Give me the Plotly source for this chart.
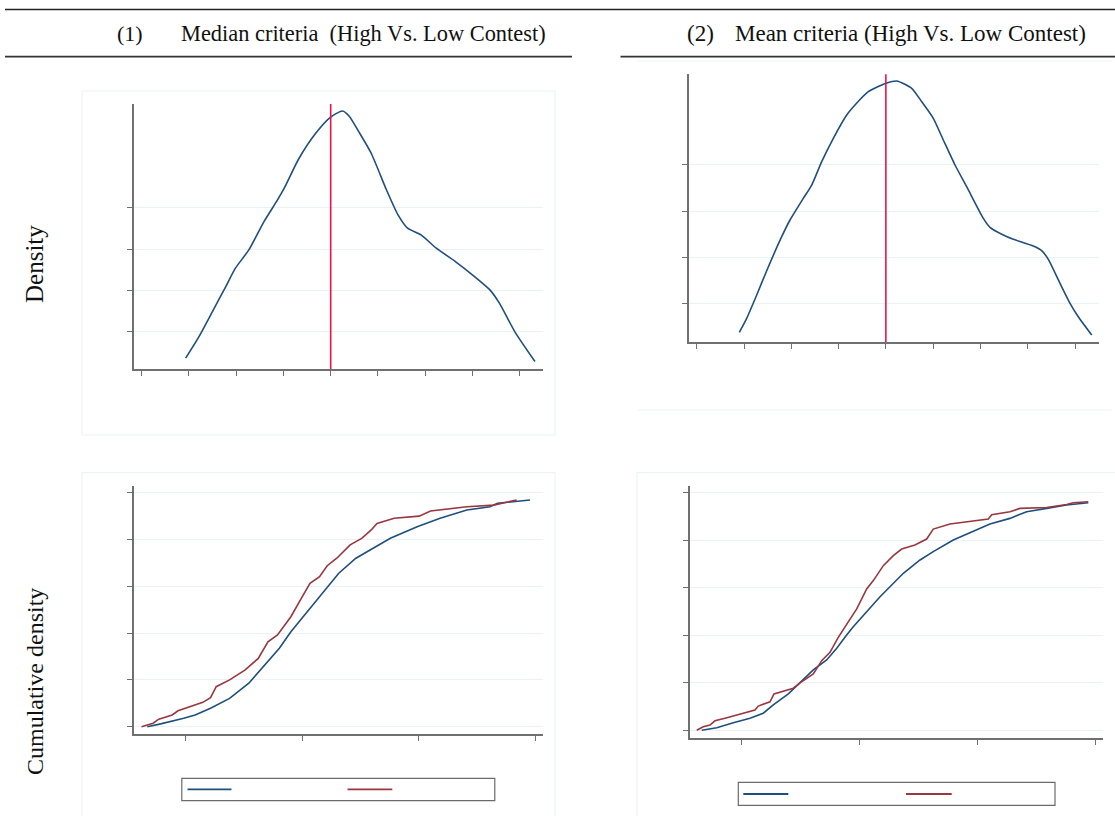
import plotly.graph_objects as go

W, H = 1115, 816

# ---- Data (axis units; axes carry no numeric labels in the original) ----
# Panel 1: kernel density, median criteria
dens1_x = [0.931, 1.214, 1.498, 1.781, 1.984, 2.268, 2.589, 2.875, 3.034, 3.319, 3.683, 3.992,
           4.250, 4.388, 4.614, 4.857, 5.181, 5.424, 5.627, 5.911, 6.234, 6.638, 7.043, 7.368,
           7.569, 7.893, 8.322]
dens1_y = [0.364, 0.886, 1.491, 2.096, 2.541, 2.984, 3.669, 4.194, 4.516, 5.179, 5.808, 6.195,
           6.347, 6.226, 5.808, 5.324, 4.434, 3.830, 3.509, 3.347, 3.025, 2.701, 2.338, 2.016,
           1.694, 1.007, 0.281]
cut1 = 4.0

# Panel 2: kernel density, mean criteria
dens2_x = [0.901, 1.057, 1.269, 1.480, 1.797, 1.973, 2.254, 2.432, 2.643, 2.889, 3.172, 3.347,
           3.629, 4.003, 4.229, 4.546, 4.758, 5.003, 5.215, 5.462, 5.709, 6.061, 6.202, 6.483,
           6.695, 7.118, 7.295, 7.435, 7.682, 7.894, 8.069, 8.353]
dens2_y = [0.383, 0.685, 1.188, 1.712, 2.446, 2.807, 3.275, 3.562, 4.065, 4.570, 5.073, 5.289,
           5.576, 5.757, 5.807, 5.649, 5.360, 5.002, 4.533, 3.994, 3.525, 2.843, 2.649, 2.483,
           2.390, 2.245, 2.144, 1.958, 1.440, 1.009, 0.719, 0.324]
cut2 = 4.0

# Panel 3: cumulative densities, median criteria
cdf1_hi_x = [0.671, 0.786, 0.984, 1.082, 1.214, 1.378, 1.543, 1.707, 1.805, 1.904, 2.035, 2.167,
             2.315, 2.462, 2.626, 2.758, 2.988, 3.185, 3.415, 3.613, 3.678, 3.842, 3.957]
cdf1_hi_y = [0.000, 0.012, 0.036, 0.050, 0.079, 0.121, 0.186, 0.278, 0.335, 0.406, 0.485, 0.563,
             0.656, 0.720, 0.769, 0.805, 0.855, 0.891, 0.926, 0.940, 0.955, 0.965, 0.969]
cdf1_lo_x = [0.622, 0.721, 0.770, 0.885, 0.935, 1.050, 1.148, 1.214, 1.263, 1.378, 1.509, 1.624,
             1.707, 1.789, 1.904, 2.002, 2.068, 2.150, 2.216, 2.298, 2.413, 2.512, 2.594, 2.643,
             2.791, 3.005, 3.103, 3.415, 3.645, 3.842]
cdf1_lo_y = [0.000, 0.015, 0.032, 0.050, 0.068, 0.086, 0.104, 0.124, 0.171, 0.200, 0.242, 0.292,
             0.363, 0.392, 0.470, 0.556, 0.613, 0.641, 0.688, 0.720, 0.777, 0.805, 0.841, 0.869,
             0.891, 0.900, 0.922, 0.940, 0.947, 0.969]

# Panel 4: cumulative densities, mean criteria
cdf2_hi_x = [0.668, 0.795, 0.935, 1.076, 1.188, 1.273, 1.400, 1.499, 1.611, 1.724, 1.809, 1.893,
             1.949, 2.062, 2.175, 2.259, 2.372, 2.513, 2.625, 2.794, 2.963, 3.104, 3.273, 3.414,
             3.583, 3.752, 3.935]
cdf2_hi_y = [0.000, 0.011, 0.032, 0.051, 0.072, 0.107, 0.153, 0.200, 0.254, 0.296, 0.345, 0.401,
             0.436, 0.499, 0.562, 0.604, 0.661, 0.717, 0.752, 0.801, 0.836, 0.868, 0.892, 0.920,
             0.934, 0.948, 0.958]
cdf2_lo_x = [0.626, 0.681, 0.738, 0.780, 0.865, 0.964, 1.048, 1.118, 1.146, 1.245, 1.279, 1.357,
             1.442, 1.499, 1.611, 1.682, 1.752, 1.822, 1.907, 1.978, 2.062, 2.118, 2.203, 2.287,
             2.358, 2.470, 2.569, 2.625, 2.766, 2.907, 3.090, 3.119, 3.273, 3.358, 3.583, 3.752,
             3.808, 3.935]
cdf2_lo_y = [0.000, 0.015, 0.022, 0.040, 0.051, 0.064, 0.074, 0.085, 0.102, 0.120, 0.153, 0.163,
             0.177, 0.200, 0.237, 0.293, 0.328, 0.391, 0.454, 0.511, 0.595, 0.630, 0.693, 0.735,
             0.763, 0.780, 0.805, 0.847, 0.868, 0.878, 0.889, 0.907, 0.920, 0.934, 0.938, 0.950,
             0.958, 0.962]

dens_ticks_x = [0, 1, 2, 3, 4, 5, 6, 7, 8]
dens_ticks_y = [1, 2, 3, 4]
cdf_ticks_x = [1, 2, 3, 4]
cdf_ticks_y = [0, 0.2, 0.4, 0.6, 0.8, 1.0]

title1_num, title1_txt = "(1)", "Median criteria  (High Vs. Low Contest)"
title2_num, title2_txt = "(2)", "Mean criteria (High Vs. Low Contest)"
ylab_top, ylab_bot = "Density", "Cumulative density"

# ---- Styles ----
BLUE = "#1f4f7e"
RED = "#9a3640"
CUT = "#e3174b"
AXC = "#707070"
GRID = "#e9f2f4"
SERIF = "Liberation Serif, Times New Roman, serif"

def px(x):
    return x / W

def py(y):
    return 1 - y / H

fig = go.Figure()

dens_line = dict(color=BLUE, width=1.6, shape="spline", smoothing=0.6)
fig.add_trace(go.Scatter(x=dens1_x, y=dens1_y, mode="lines", line=dens_line,
                         xaxis="x", yaxis="y", showlegend=False))
fig.add_trace(go.Scatter(x=[cut1, cut1], y=[0.1, 6.52], mode="lines", line=dict(color=CUT, width=1.6),
                         xaxis="x", yaxis="y", showlegend=False))
fig.add_trace(go.Scatter(x=dens2_x, y=dens2_y, mode="lines", line=dens_line,
                         xaxis="x2", yaxis="y2", showlegend=False))
fig.add_trace(go.Scatter(x=[cut2, cut2], y=[0.167, 5.95], mode="lines", line=dict(color=CUT, width=1.6),
                         xaxis="x2", yaxis="y2", showlegend=False))
fig.add_trace(go.Scatter(x=cdf1_hi_x, y=cdf1_hi_y, mode="lines", line=dict(color=BLUE, width=1.6),
                         xaxis="x3", yaxis="y3", showlegend=False))
fig.add_trace(go.Scatter(x=cdf1_lo_x, y=cdf1_lo_y, mode="lines", line=dict(color=RED, width=1.6),
                         xaxis="x3", yaxis="y3", showlegend=False))
fig.add_trace(go.Scatter(x=cdf2_hi_x, y=cdf2_hi_y, mode="lines", line=dict(color=BLUE, width=1.6),
                         xaxis="x4", yaxis="y4", showlegend=False))
fig.add_trace(go.Scatter(x=cdf2_lo_x, y=cdf2_lo_y, mode="lines", line=dict(color=RED, width=1.6),
                         xaxis="x4", yaxis="y4", showlegend=False))

def xax(domain, rng, ticks, anchor):
    return dict(domain=domain, range=rng, tickvals=ticks, showticklabels=False, ticks="outside",
                ticklen=5, tickcolor=AXC, tickwidth=1, showline=True, linecolor=AXC, linewidth=1.5,
                showgrid=False, zeroline=False, anchor=anchor, fixedrange=True)

def yax(domain, rng, ticks, anchor):
    return dict(domain=domain, range=rng, tickvals=ticks, showticklabels=False, ticks="outside",
                ticklen=5, tickcolor=AXC, tickwidth=1, showline=True, linecolor=AXC, linewidth=1.5,
                showgrid=True, gridcolor=GRID, gridwidth=1.2, zeroline=False, anchor=anchor,
                fixedrange=True)

fig.update_layout(
    width=W, height=H, margin=dict(l=0, r=0, t=0, b=0),
    paper_bgcolor="white", plot_bgcolor="white", showlegend=False,
    xaxis=xax([px(134), px(542.7)], [-0.161, 8.485], dens_ticks_x, "y"),
    yaxis=yax([py(369), py(104)], [0.10, 6.517], dens_ticks_y, "x"),
    xaxis2=xax([px(689), px(1099.3)], [-0.163, 8.513], dens_ticks_x, "y2"),
    yaxis2=yax([py(342.3), py(74)], [0.167, 5.958], dens_ticks_y, "x2"),
    xaxis3=xax([px(134), px(542.7)], [0.557, 4.066], cdf_ticks_x, "y3"),
    yaxis3=yax([py(734.3), py(485.7)], [-0.0325, 1.030], cdf_ticks_y, "x3"),
    xaxis4=xax([px(690), px(1103.3)], [0.569, 4.062], cdf_ticks_x, "y4"),
    yaxis4=yax([py(738.3), py(485.7)], [-0.0337, 1.0295], cdf_ticks_y, "x4"),
)

shapes = []
def pline(x0, y0, x1, y1, color, width):
    shapes.append(dict(type="line", xref="paper", yref="paper", x0=px(x0), y0=py(y0),
                       x1=px(x1), y1=py(y1), line=dict(color=color, width=width), layer="below"))

def prect(x0, y0, x1, y1, color, width, fill=None):
    shapes.append(dict(type="rect", xref="paper", yref="paper", x0=px(x0), y0=py(y0),
                       x1=px(x1), y1=py(y1), line=dict(color=color, width=width),
                       fillcolor=fill if fill else "rgba(0,0,0,0)", layer="below"))

# table rules
pline(5, 9.5, 1115, 9.5, "#222222", 1.5)
pline(5, 56.7, 572, 56.7, "#333333", 1.8)
pline(620.5, 56.7, 1115, 56.7, "#333333", 1.8)

# faint graph-region frames
FAINT = "#eef4f6"
prect(82, 91, 555, 435, FAINT, 1.2)
pline(637, 61, 1112, 61, FAINT, 1.2)
pline(637, 410, 1112, 410, FAINT, 1.2)
prect(82, 472.7, 555, 820, FAINT, 1.2)
prect(637, 472.7, 1120, 820, FAINT, 1.2)

# legend boxes (no labels in the source)
prect(181.8, 778.3, 494.8, 800.7, "#6b6b6b", 1.2, "white")
pline(187.5, 789.3, 231.5, 789.3, BLUE, 1.8)
pline(347.5, 789.3, 392.3, 789.3, RED, 1.8)
prect(738.3, 782.3, 1055, 805.3, "#6b6b6b", 1.2, "white")
pline(743.3, 794, 788.3, 794, BLUE, 1.8)
pline(906, 794, 951.7, 794, RED, 1.8)

fig.update_layout(shapes=shapes)

ann = []
def ptext(x, y, text, size, anchor="left", angle=0):
    ann.append(dict(xref="paper", yref="paper", x=px(x), y=py(y), text=text, showarrow=False,
                    xanchor=anchor, yanchor="middle", textangle=angle,
                    font=dict(family=SERIF, size=size, color="#111111")))

ptext(115, 34, title1_num, 22)
ptext(179, 34, title1_txt, 22.4)
ptext(685, 34, title2_num, 23)
ptext(733, 34, title2_txt, 23)
ptext(35, 264, ylab_top, 25, anchor="center", angle=-90)
ptext(35, 682, ylab_bot, 24, anchor="center", angle=-90)

fig.update_layout(annotations=ann)

fig.write_html(
    "out.html",
    config={"displayModeBar": False},
    post_script="document.body.style.margin='0';document.body.style.overflow='hidden';",
)
